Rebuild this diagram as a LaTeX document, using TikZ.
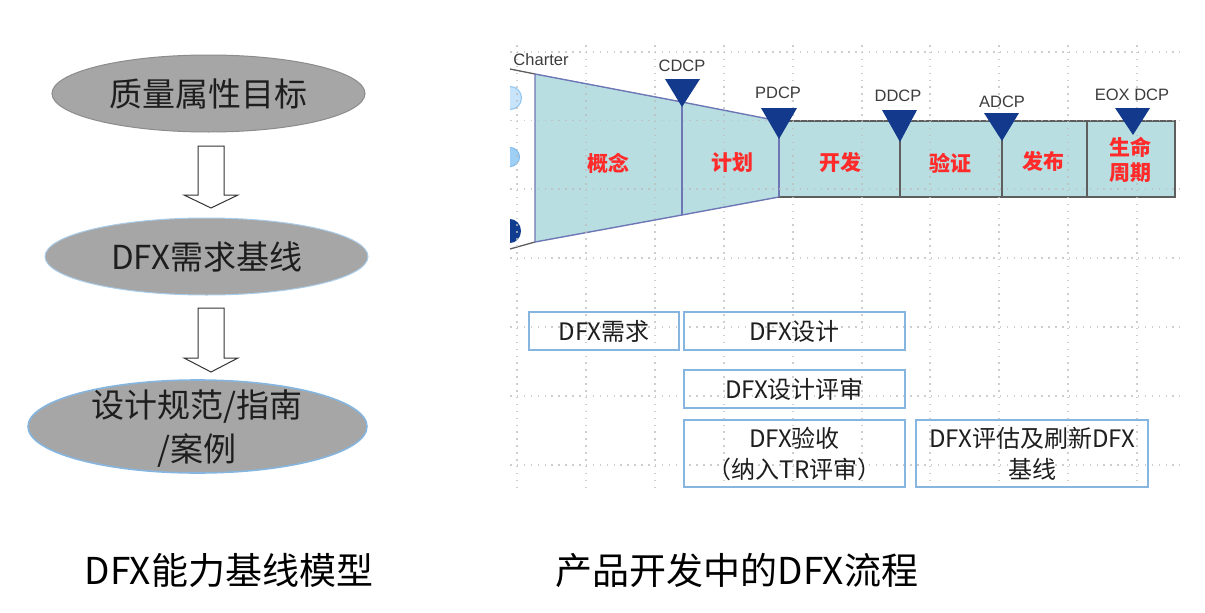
\documentclass[tikz,border=0pt]{standalone}
\usepackage{fontspec}
\setmainfont{Noto Sans CJK SC}
\newfontfamily\latf{Liberation Sans}
\usetikzlibrary{shapes.geometric}
\definecolor{ellfill}{HTML}{A6A6A6}
\definecolor{funfill}{HTML}{B9DEE1}
\definecolor{funedge}{HTML}{6E77B5}
\definecolor{rectedge}{HTML}{5E5E5E}
\definecolor{dcpblue}{HTML}{12398C}
\definecolor{boxblue}{HTML}{86B6E0}
\definecolor{phred}{HTML}{FF2B2B}
\definecolor{gridc}{HTML}{BDBDBD}
\definecolor{txt}{HTML}{1E1E1E}
\definecolor{dcptxt}{HTML}{3C3C3C}
\definecolor{mk1}{HTML}{C7E4FA}
\definecolor{mk1e}{HTML}{8FC4EE}
\definecolor{mk2}{HTML}{9ECFF4}
\definecolor{mk2e}{HTML}{7DB9EC}
\definecolor{mk3}{HTML}{103D8F}
\tikzset{
  ell/.style={ellipse, fill=ellfill, inner sep=0pt, line width=1pt},
  elltext/.style={font=\fontsize{33}{44}\selectfont, text=txt, align=center},
  blk/.style={draw=black!80, line width=1pt, fill=white},
  gridline/.style={draw=gridc, line width=1.6pt, dash pattern=on 1.5pt off 5.4pt},
  dcptri/.style={fill=dcpblue},
  dcplabel/.style={font=\latf\fontsize{16.5}{18}\selectfont, text=dcptxt},
  phase/.style={font=\bfseries\fontsize{21}{25}\selectfont, text=phred, align=center},
  dfxbox/.style={draw=boxblue, line width=1.5pt, rectangle, inner sep=0pt,
    font=\fontsize{24}{31}\selectfont, text=txt, align=center},
  caption/.style={font=\fontsize{37}{40}\selectfont, text=black}
}
\begin{document}
\begin{tikzpicture}[x=1pt,y=-1pt]
\useasboundingbox (0,0) rectangle (1205,613);

% ---------- left: model ----------
\node[ell, draw=black!45, minimum width=313pt, minimum height=77pt] (e1) at (208.5,93.5) {};
\node[elltext] (e1t) at (e1.center) {质量属性目标};
\node[ell, draw=boxblue!70, minimum width=323pt, minimum height=77pt] (e2) at (206.5,256.5) {};
\node[elltext] (e2t) at (e2.center) {DFX需求基线};
\node[ell, draw=boxblue, line width=1.6pt, minimum width=339pt, minimum height=93pt] (e3) at (197.5,426.5) {};
\node[elltext] (e3t) at (197,429) {设计规范/指南\\/案例};

\coordinate (a1) at (211,146);
\coordinate (a2) at (211,308);
\draw[blk] (a1) ++(-13,0) -- ++(26,0) -- ++(0,49) -- ++(14,0) -- ++(-27,13) -- ++(-27,-13) -- ++(14,0) -- cycle;
\draw[blk] (a2) ++(-13,0) -- ++(26,0) -- ++(0,50) -- ++(14,0) -- ++(-27,14) -- ++(-27,-14) -- ++(14,0) -- cycle;

% ---------- right: process ----------
\begin{scope}
\clip (510,60) rectangle (535,260);
\filldraw[fill=mk1, draw=mk1e, line width=1pt] (510,98) circle (11.5);
\filldraw[fill=mk2, draw=mk2e, line width=1pt] (510,157) circle (9.5);
\fill[mk3] (510,231) ellipse (11 and 12);
\end{scope}

\coordinate (f1) at (535,74);
\coordinate (c1) at (682,102);
\coordinate (p1) at (779,121);
\coordinate (p2) at (779,197);
\coordinate (c2) at (682,215);
\coordinate (f2) at (535,242);
\coordinate (r1) at (1175,121);
\coordinate (r2) at (1175,197);
\coordinate (l1) at (510,69);
\coordinate (l2) at (510,249);

\draw[rectedge, line width=1.3pt] (l1) -- (f1);
\draw[rectedge, line width=1.3pt] (l2) -- (f2);
\filldraw[fill=funfill, draw=funedge, line width=1.4pt] (f1) -- (c1) -- (p1) -- (p2) -- (c2) -- (f2) -- cycle;
\draw[funedge, line width=1.4pt] (c1) -- (c2);
\filldraw[fill=funfill, draw=rectedge, line width=1.3pt] (p1) rectangle (r2);
\draw[funedge, line width=1.4pt] (p1) -- (p2);
\draw[rectedge, line width=1.3pt] (900,121) -- (900,197);
\draw[rectedge, line width=1.3pt] (1002,121) -- (1002,197);
\draw[rectedge, line width=1.3pt] (1087,121) -- (1087,197);

% grid
\begin{scope}[opacity=0.75]
\foreach \gx in {517,586,655,724,793,862,930,999,1068,1137}
  \draw[gridline] (\gx,45) -- (\gx,493);
\foreach \gy in {52,120.5,189,258,327,396,465}
  \draw[gridline] (510,\gy) -- (1180,\gy);
\end{scope}

% DCP triangles
\fill[dcptri] (665,79) -- (700,79) -- (682,107) -- cycle;
\fill[dcptri] (761,108) -- (797,108) -- (779,139) -- cycle;
\fill[dcptri] (882,110) -- (917,110) -- (900,142) -- cycle;
\fill[dcptri] (984,113) -- (1019,113) -- (1002,141) -- cycle;
\fill[dcptri] (1115,108) -- (1150,108) -- (1133,135) -- cycle;

\node[dcplabel] (charter) at (541,60) {Charter};
\node[dcplabel] (cdcp) at (682,66) {CDCP};
\node[dcplabel] (pdcp) at (778,93) {PDCP};
\node[dcplabel] (ddcp) at (898,96) {DDCP};
\node[dcplabel] (adcp) at (1002,102) {ADCP};
\node[dcplabel] (eox) at (1132,95) {EOX DCP};

\node[phase] (ph1) at (608,163) {概念};
\node[phase] (ph2) at (732,163) {计划};
\node[phase] (ph3) at (840,162) {开发};
\node[phase] (ph4) at (950,163) {验证};
\node[phase] (ph5) at (1043,161) {发布};
\node[phase] (ph6) at (1130,160) {生命\\周期};

% DFX boxes
\node[dfxbox, minimum width=150pt, minimum height=38pt] (b1) at (604,331) {DFX需求};
\node[dfxbox, minimum width=221pt, minimum height=38pt] (b2) at (794.5,331) {DFX设计};
\node[dfxbox, minimum width=221pt, minimum height=38pt] (b3) at (794.5,389) {DFX设计评审};
\node[dfxbox, minimum width=221pt, minimum height=67pt] (b4) at (794.5,453.5) {DFX验收\\（纳入TR评审）};
\node[dfxbox, minimum width=232pt, minimum height=67pt] (b5) at (1032,453.5) {DFX评估及刷新DFX\\基线};

% captions
\node[caption] (cap1) at (229,570) {DFX能力基线模型};
\node[caption] (cap2) at (737,570) {产品开发中的DFX流程};
\end{tikzpicture}
\end{document}
